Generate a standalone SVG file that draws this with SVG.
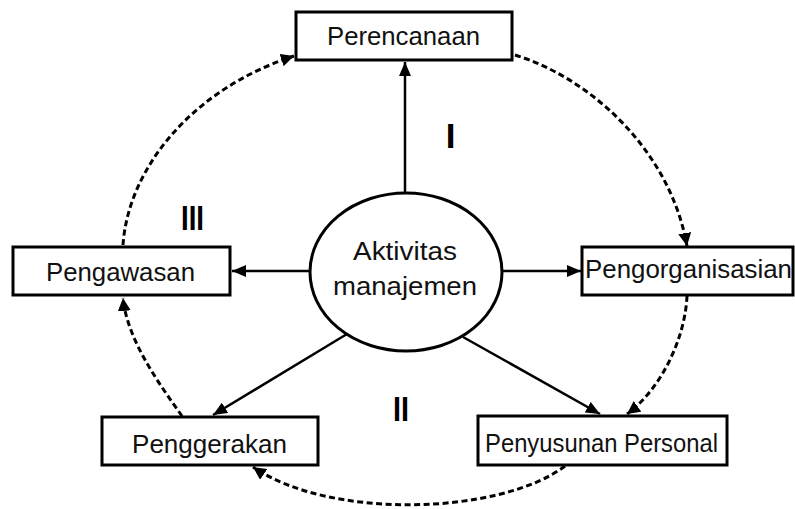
<svg xmlns="http://www.w3.org/2000/svg" width="795" height="509" viewBox="0 0 795 509">
  <defs>
    <style>
      .box { fill: #fff; stroke: #000; stroke-width: 3; }
      .lbl { font-family: "Liberation Sans", Arial, sans-serif; font-size: 26px; fill: #111; }
      .num { font-family: "Liberation Sans", Arial, sans-serif; font-size: 35px; font-weight: bold; fill: #000; text-anchor: middle; }
      .solid { fill: none; stroke: #000; stroke-width: 2.5; marker-end: url(#head); }
      .dash { fill: none; stroke: #000; stroke-width: 3; stroke-dasharray: 6 3.5; marker-end: url(#head-s); }
    </style>
    <marker id="head" viewBox="0 0 14 12" refX="14" refY="6" markerWidth="14" markerHeight="12" markerUnits="userSpaceOnUse" orient="auto">
      <path d="M0,0 L14,6 L0,12 Z" fill="#000"/>
    </marker>
    <marker id="head-s" viewBox="0 0 13 13" refX="13" refY="6.5" markerWidth="13" markerHeight="13" markerUnits="userSpaceOnUse" orient="auto">
      <path d="M0,0 L13,6.5 L0,13 Z" fill="#000"/>
    </marker>
  </defs>
  <rect width="795" height="509" fill="#fff"/>

  <!-- connectors -->
  <g id="connectors">
    <!-- from the centre to each activity -->
    <line class="solid" x1="405" y1="193" x2="405" y2="62"/>
    <line class="solid" x1="310" y1="271" x2="232" y2="271"/>
    <line class="solid" x1="502" y1="271" x2="581" y2="271"/>
    <line class="solid" x1="463" y1="337" x2="600" y2="414"/>
    <line class="solid" x1="347" y1="334" x2="213" y2="415"/>
    <!-- dashed cycle around the centre -->
    <path class="dash" d="M515,55 C590,78 670,150 687,246"/>
    <path class="dash" d="M687,296 C685,340 660,390 627,414"/>
    <path class="dash" d="M565,466 C500,515 330,520 253,467"/>
    <path class="dash" d="M182,416 C160,385 127,340 123,298"/>
    <path class="dash" d="M123,245 C128,170 190,90 294,56"/>
  </g>

  <g id="perencanaan">
    <rect class="box" x="296" y="12" width="216" height="48"/>
    <text class="lbl" x="327" y="45" textLength="153" lengthAdjust="spacingAndGlyphs">Perencanaan</text>
  </g>
  <g id="pengorganisasian">
    <rect class="box" x="582" y="247" width="211" height="48"/>
    <text class="lbl" x="585" y="278" textLength="207" lengthAdjust="spacingAndGlyphs">Pengorganisasian</text>
  </g>
  <g id="penyusunan-personal">
    <rect class="box" x="478" y="416" width="249" height="49"/>
    <text class="lbl" x="485" y="452" font-size="24" textLength="233" lengthAdjust="spacingAndGlyphs">Penyusunan Personal</text>
  </g>
  <g id="penggerakan">
    <rect class="box" x="102" y="417" width="216" height="48"/>
    <text class="lbl" x="132" y="453" textLength="155" lengthAdjust="spacingAndGlyphs">Penggerakan</text>
  </g>
  <g id="pengawasan">
    <rect class="box" x="13" y="247" width="217" height="48"/>
    <text class="lbl" x="46" y="281" textLength="149" lengthAdjust="spacingAndGlyphs">Pengawasan</text>
  </g>
  <g id="aktivitas-manajemen">
    <ellipse class="box" cx="406" cy="272" rx="96" ry="79"/>
    <text class="lbl" x="353" y="260" textLength="104" lengthAdjust="spacingAndGlyphs">Aktivitas</text>
    <text class="lbl" x="333" y="295" textLength="144" lengthAdjust="spacingAndGlyphs">manajemen</text>
  </g>

  <!-- phase numerals -->
  <g id="phases">
    <text class="num" x="450.5" y="148">I</text>
    <text class="num" x="401" y="421" textLength="16" lengthAdjust="spacingAndGlyphs">II</text>
    <text class="num" x="192.5" y="230" textLength="23" lengthAdjust="spacingAndGlyphs">III</text>
  </g>
</svg>
